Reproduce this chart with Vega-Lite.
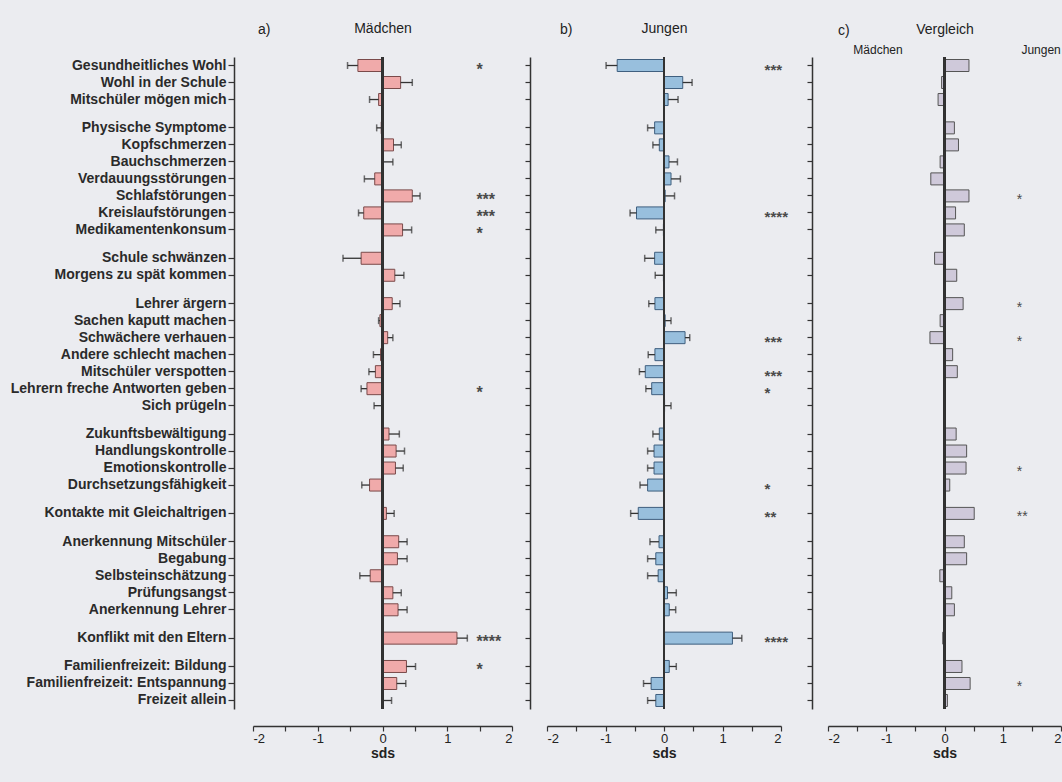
{
  "$schema": "https://vega.github.io/schema/vega-lite/v6.json",
  "background": "#ebecf0",
  "padding": {"left": 9, "top": 21, "right": 0, "bottom": 30},
  "data": {"values": [
    {"item": "Gesundheitliches Wohl", "m": -0.38, "me": -0.54, "sm": "*", "j": -0.80, "je": -0.99, "sj": "***", "v": 0.42, "sv": ""},
    {"item": "Wohl in der Schule", "m": 0.28, "me": 0.46, "sm": "", "j": 0.32, "je": 0.48, "sj": "", "v": -0.05, "sv": ""},
    {"item": "Mitschüler mögen mich", "m": -0.06, "me": -0.20, "sm": "", "j": 0.07, "je": 0.24, "sj": "", "v": -0.11, "sv": ""},
    {"item": "Physische Symptome", "m": -0.02, "me": -0.09, "sm": "", "j": -0.16, "je": -0.28, "sj": "", "v": 0.17, "sv": ""},
    {"item": "Kopfschmerzen", "m": 0.17, "me": 0.29, "sm": "", "j": -0.08, "je": -0.19, "sj": "", "v": 0.24, "sv": ""},
    {"item": "Bauchschmerzen", "m": 0.01, "me": 0.16, "sm": "", "j": 0.085, "je": 0.23, "sj": "", "v": -0.075, "sv": ""},
    {"item": "Verdauungsstörungen", "m": -0.12, "me": -0.28, "sm": "", "j": 0.12, "je": 0.28, "sj": "", "v": -0.235, "sv": ""},
    {"item": "Schlafstörungen", "m": 0.46, "me": 0.58, "sm": "***", "j": 0.02, "je": 0.18, "sj": "", "v": 0.42, "sv": "*"},
    {"item": "Kreislaufstörungen", "m": -0.29, "me": -0.37, "sm": "***", "j": -0.47, "je": -0.58, "sj": "****", "v": 0.19, "sv": ""},
    {"item": "Medikamentenkonsum", "m": 0.31, "me": 0.45, "sm": "*", "j": -0.01, "je": -0.14, "sj": "", "v": 0.34, "sv": ""},
    {"item": "Schule schwänzen", "m": -0.33, "me": -0.61, "sm": "", "j": -0.16, "je": -0.33, "sj": "", "v": -0.17, "sv": ""},
    {"item": "Morgens zu spät kommen", "m": 0.19, "me": 0.33, "sm": "", "j": -0.01, "je": -0.15, "sj": "", "v": 0.21, "sv": ""},
    {"item": "Lehrer ärgern", "m": 0.15, "me": 0.27, "sm": "", "j": -0.155, "je": -0.26, "sj": "", "v": 0.32, "sv": "*"},
    {"item": "Sachen kaputt machen", "m": -0.04, "me": -0.06, "sm": "", "j": 0.02, "je": 0.12, "sj": "", "v": -0.075, "sv": ""},
    {"item": "Schwächere verhauen", "m": 0.08, "me": 0.16, "sm": "", "j": 0.36, "je": 0.44, "sj": "***", "v": -0.25, "sv": "*"},
    {"item": "Andere schlecht machen", "m": -0.03, "me": -0.14, "sm": "", "j": -0.155, "je": -0.27, "sj": "", "v": 0.14, "sv": ""},
    {"item": "Mitschüler verspotten", "m": -0.11, "me": -0.21, "sm": "", "j": -0.32, "je": -0.42, "sj": "***", "v": 0.22, "sv": ""},
    {"item": "Lehrern freche Antworten geben", "m": -0.24, "me": -0.33, "sm": "*", "j": -0.21, "je": -0.31, "sj": "*", "v": 0.01, "sv": ""},
    {"item": "Sich prügeln", "m": -0.01, "me": -0.13, "sm": "", "j": 0.01, "je": 0.12, "sj": "", "v": 0.01, "sv": ""},
    {"item": "Zukunftsbewältigung", "m": 0.10, "me": 0.26, "sm": "", "j": -0.08, "je": -0.19, "sj": "", "v": 0.20, "sv": ""},
    {"item": "Handlungskontrolle", "m": 0.21, "me": 0.34, "sm": "", "j": -0.17, "je": -0.28, "sj": "", "v": 0.38, "sv": ""},
    {"item": "Emotionskontrolle", "m": 0.20, "me": 0.32, "sm": "", "j": -0.17, "je": -0.28, "sj": "", "v": 0.37, "sv": "*"},
    {"item": "Durchsetzungsfähigkeit", "m": -0.20, "me": -0.32, "sm": "", "j": -0.28, "je": -0.41, "sj": "*", "v": 0.09, "sv": ""},
    {"item": "Kontakte mit Gleichaltrigen", "m": 0.06, "me": 0.18, "sm": "", "j": -0.44, "je": -0.57, "sj": "**", "v": 0.51, "sv": "**"},
    {"item": "Anerkennung Mitschüler", "m": 0.25, "me": 0.38, "sm": "", "j": -0.085, "je": -0.24, "sj": "", "v": 0.34, "sv": ""},
    {"item": "Begabung", "m": 0.23, "me": 0.38, "sm": "", "j": -0.14, "je": -0.28, "sj": "", "v": 0.38, "sv": ""},
    {"item": "Selbsteinschätzung", "m": -0.19, "me": -0.35, "sm": "", "j": -0.10, "je": -0.28, "sj": "", "v": -0.08, "sv": ""},
    {"item": "Prüfungsangst", "m": 0.16, "me": 0.29, "sm": "", "j": 0.06, "je": 0.21, "sj": "", "v": 0.125, "sv": ""},
    {"item": "Anerkennung Lehrer", "m": 0.24, "me": 0.38, "sm": "", "j": 0.09, "je": 0.20, "sj": "", "v": 0.17, "sv": ""},
    {"item": "Konflikt mit den Eltern", "m": 1.15, "me": 1.31, "sm": "****", "j": 1.17, "je": 1.33, "sj": "****", "v": -0.03, "sv": ""},
    {"item": "Familienfreizeit: Bildung", "m": 0.37, "me": 0.51, "sm": "*", "j": 0.09, "je": 0.21, "sj": "", "v": 0.30, "sv": ""},
    {"item": "Familienfreizeit: Entspannung", "m": 0.22, "me": 0.36, "sm": "", "j": -0.22, "je": -0.35, "sj": "", "v": 0.44, "sv": "*"},
    {"item": "Freizeit allein", "m": 0.01, "me": 0.14, "sm": "", "j": -0.14, "je": -0.28, "sj": "", "v": 0.05, "sv": ""}
  ]},
  "spacing": 0,
  "bounds": "flush",
  "config": {
    "view": {"stroke": null},
    "font": "Liberation Sans",
    "axis": {"domainColor": "#333333", "tickColor": "#333333", "labelColor": "#222222", "titleColor": "#222222", "domainWidth": 1.5, "tickWidth": 1.2, "grid": false}
  },
  "hconcat": [
    {
      "width": 296, "height": 652,
      "title": {"text": "a)", "anchor": "start", "frame": "group", "dx": 24, "offset": -16, "fontSize": 14, "fontWeight": "normal", "color": "#222222", "font": "Liberation Sans Narrow, Liberation Sans"},
      "resolve": {"axis": {"x": "independent"}},
      "layer": [
        {
          "encoding": {"y": {"field": "item", "type": "nominal",
            "scale": {"type": "band", "paddingInner": 0, "paddingOuter": 1.18, "domain": ["Gesundheitliches Wohl","_1","_2","Wohl in der Schule","_3","_4","Mitschüler mögen mich","_5","_6","_7","_8","Physische Symptome","_9","_10","Kopfschmerzen","_11","_12","Bauchschmerzen","_13","_14","Verdauungsstörungen","_15","_16","Schlafstörungen","_17","_18","Kreislaufstörungen","_19","_20","Medikamentenkonsum","_21","_22","_23","_24","Schule schwänzen","_25","_26","Morgens zu spät kommen","_27","_28","_29","_30","Lehrer ärgern","_31","_32","Sachen kaputt machen","_33","_34","Schwächere verhauen","_35","_36","Andere schlecht machen","_37","_38","Mitschüler verspotten","_39","_40","Lehrern freche Antworten geben","_41","_42","Sich prügeln","_43","_44","_45","_46","Zukunftsbewältigung","_47","_48","Handlungskontrolle","_49","_50","Emotionskontrolle","_51","_52","Durchsetzungsfähigkeit","_53","_54","_55","_56","Kontakte mit Gleichaltrigen","_57","_58","_59","_60","Anerkennung Mitschüler","_61","_62","Begabung","_63","_64","Selbsteinschätzung","_65","_66","Prüfungsangst","_67","_68","Anerkennung Lehrer","_69","_70","_71","_72","Konflikt mit den Eltern","_73","_74","_75","_76","Familienfreizeit: Bildung","_77","_78","Familienfreizeit: Entspannung","_79","_80","Freizeit allein"]},
            "axis": {"title": null, "values": ["Gesundheitliches Wohl","Wohl in der Schule","Mitschüler mögen mich","Physische Symptome","Kopfschmerzen","Bauchschmerzen","Verdauungsstörungen","Schlafstörungen","Kreislaufstörungen","Medikamentenkonsum","Schule schwänzen","Morgens zu spät kommen","Lehrer ärgern","Sachen kaputt machen","Schwächere verhauen","Andere schlecht machen","Mitschüler verspotten","Lehrern freche Antworten geben","Sich prügeln","Zukunftsbewältigung","Handlungskontrolle","Emotionskontrolle","Durchsetzungsfähigkeit","Kontakte mit Gleichaltrigen","Anerkennung Mitschüler","Begabung","Selbsteinschätzung","Prüfungsangst","Anerkennung Lehrer","Konflikt mit den Eltern","Familienfreizeit: Bildung","Familienfreizeit: Entspannung","Freizeit allein"],
              "labelFontWeight": "bold", "labelFontSize": 14, "labelLimit": 400, "tickSize": 6, "labelPadding": 2, "labelColor": "#2a2a2a"}}},
          "layer": [
            {"mark": {"type": "bar", "size": 12, "fill": "#f0aaaa", "stroke": "#7a4a4a", "strokeWidth": 1},
             "encoding": {"x": {"field": "m", "type": "quantitative", "scale": {"domain": [-2, 2], "range": [19, 278], "nice": false, "zero": false}, "axis": null}}},
            {"mark": {"type": "rule", "color": "#333333", "strokeWidth": 1.3},
             "encoding": {"x": {"field": "m", "type": "quantitative", "scale": {"domain": [-2, 2], "range": [19, 278], "nice": false, "zero": false}, "axis": null}, "x2": {"field": "me"}}},
            {"mark": {"type": "tick", "color": "#333333", "thickness": 1.5, "size": 7},
             "encoding": {"x": {"field": "me", "type": "quantitative", "scale": {"domain": [-2, 2], "range": [19, 278], "nice": false, "zero": false}, "axis": null}}},
            {"mark": {"type": "text", "align": "left", "baseline": "middle", "dy": 4, "fontSize": 16, "fontWeight": "bold", "color": "#4a4a4a"},
             "encoding": {"x": {"datum": 1.45, "type": "quantitative", "scale": {"domain": [-2, 2], "range": [19, 278], "nice": false, "zero": false}, "axis": null}, "text": {"field": "sm"}}}
          ]
        },
        {"mark": {"type": "rule", "color": "#333333", "strokeWidth": 1.5},
         "encoding": {"x": {"datum": 0, "type": "quantitative", "scale": {"domain": [-2, 2], "range": [19, 278], "nice": false, "zero": false},
           "axis": {"orient": "bottom", "title": "sds", "titleFontWeight": "bold", "titleFontSize": 14, "values": [-2, -1.5, -1, -0.5, 0, 0.5, 1, 1.5, 2], "labelExpr": "datum.value % 1 === 0 ? toString(datum.value) : ''", "offset": 17, "tickSize": 5, "labelFontSize": 13, "labelPadding": 1, "titlePadding": 1}}}},
        {"mark": {"type": "rule", "color": "#333333", "strokeWidth": 1.5},
         "encoding": {"x": {"datum": 0, "type": "quantitative", "scale": {"domain": [-2, 2], "range": [19, 278], "nice": false, "zero": false},
           "axis": {"orient": "top", "title": "Mädchen", "labels": false, "ticks": false, "domain": false, "titleFontSize": 14, "titleFontWeight": "normal", "titlePadding": 22, "titleFont": "Liberation Sans Narrow, Liberation Sans"}}}}
      ]
    },
    {
      "width": 282, "height": 652,
      "title": {"text": "b)", "anchor": "start", "frame": "group", "dx": 30, "offset": -16, "fontSize": 14, "fontWeight": "normal", "color": "#222222", "font": "Liberation Sans Narrow, Liberation Sans"},
      "resolve": {"axis": {"x": "independent"}},
      "layer": [
        {
          "encoding": {"y": {"field": "item", "type": "nominal",
            "scale": {"type": "band", "paddingInner": 0, "paddingOuter": 1.18, "domain": ["Gesundheitliches Wohl","_1","_2","Wohl in der Schule","_3","_4","Mitschüler mögen mich","_5","_6","_7","_8","Physische Symptome","_9","_10","Kopfschmerzen","_11","_12","Bauchschmerzen","_13","_14","Verdauungsstörungen","_15","_16","Schlafstörungen","_17","_18","Kreislaufstörungen","_19","_20","Medikamentenkonsum","_21","_22","_23","_24","Schule schwänzen","_25","_26","Morgens zu spät kommen","_27","_28","_29","_30","Lehrer ärgern","_31","_32","Sachen kaputt machen","_33","_34","Schwächere verhauen","_35","_36","Andere schlecht machen","_37","_38","Mitschüler verspotten","_39","_40","Lehrern freche Antworten geben","_41","_42","Sich prügeln","_43","_44","_45","_46","Zukunftsbewältigung","_47","_48","Handlungskontrolle","_49","_50","Emotionskontrolle","_51","_52","Durchsetzungsfähigkeit","_53","_54","_55","_56","Kontakte mit Gleichaltrigen","_57","_58","_59","_60","Anerkennung Mitschüler","_61","_62","Begabung","_63","_64","Selbsteinschätzung","_65","_66","Prüfungsangst","_67","_68","Anerkennung Lehrer","_69","_70","_71","_72","Konflikt mit den Eltern","_73","_74","_75","_76","Familienfreizeit: Bildung","_77","_78","Familienfreizeit: Entspannung","_79","_80","Freizeit allein"]},
            "axis": {"title": null, "labels": false, "values": ["Gesundheitliches Wohl","Wohl in der Schule","Mitschüler mögen mich","Physische Symptome","Kopfschmerzen","Bauchschmerzen","Verdauungsstörungen","Schlafstörungen","Kreislaufstörungen","Medikamentenkonsum","Schule schwänzen","Morgens zu spät kommen","Lehrer ärgern","Sachen kaputt machen","Schwächere verhauen","Andere schlecht machen","Mitschüler verspotten","Lehrern freche Antworten geben","Sich prügeln","Zukunftsbewältigung","Handlungskontrolle","Emotionskontrolle","Durchsetzungsfähigkeit","Kontakte mit Gleichaltrigen","Anerkennung Mitschüler","Begabung","Selbsteinschätzung","Prüfungsangst","Anerkennung Lehrer","Konflikt mit den Eltern","Familienfreizeit: Bildung","Familienfreizeit: Entspannung","Freizeit allein"], "tickSize": 5}}},
          "layer": [
            {"mark": {"type": "bar", "size": 12, "fill": "#98bfdd", "stroke": "#3f5f7f", "strokeWidth": 1},
             "encoding": {"x": {"field": "j", "type": "quantitative", "scale": {"domain": [-2, 2], "range": [17, 251], "nice": false, "zero": false}, "axis": null}}},
            {"mark": {"type": "rule", "color": "#333333", "strokeWidth": 1.3},
             "encoding": {"x": {"field": "j", "type": "quantitative", "scale": {"domain": [-2, 2], "range": [17, 251], "nice": false, "zero": false}, "axis": null}, "x2": {"field": "je"}}},
            {"mark": {"type": "tick", "color": "#333333", "thickness": 1.5, "size": 7},
             "encoding": {"x": {"field": "je", "type": "quantitative", "scale": {"domain": [-2, 2], "range": [17, 251], "nice": false, "zero": false}, "axis": null}}},
            {"mark": {"type": "text", "align": "left", "baseline": "middle", "dy": 4, "fontSize": 15, "fontWeight": "bold", "color": "#4a4a4a"},
             "encoding": {"x": {"datum": 1.72, "type": "quantitative", "scale": {"domain": [-2, 2], "range": [17, 251], "nice": false, "zero": false}, "axis": null}, "text": {"field": "sj"}}}
          ]
        },
        {"mark": {"type": "rule", "color": "#333333", "strokeWidth": 1.5},
         "encoding": {"x": {"datum": 0, "type": "quantitative", "scale": {"domain": [-2, 2], "range": [17, 251], "nice": false, "zero": false},
           "axis": {"orient": "bottom", "title": "sds", "titleFontWeight": "bold", "titleFontSize": 14, "values": [-2, -1.5, -1, -0.5, 0, 0.5, 1, 1.5, 2], "labelExpr": "datum.value % 1 === 0 ? toString(datum.value) : ''", "offset": 17, "tickSize": 5, "labelFontSize": 13, "labelPadding": 1, "titlePadding": 1}}}},
        {"mark": {"type": "rule", "color": "#333333", "strokeWidth": 1.5},
         "encoding": {"x": {"datum": 0, "type": "quantitative", "scale": {"domain": [-2, 2], "range": [17, 251], "nice": false, "zero": false},
           "axis": {"orient": "top", "title": "Jungen", "labels": false, "ticks": false, "domain": false, "titleFontSize": 14, "titleFontWeight": "normal", "titlePadding": 22, "titleFont": "Liberation Sans Narrow, Liberation Sans"}}}}
      ]
    },
    {
      "width": 250, "height": 652,
      "title": {"text": "c)", "anchor": "start", "frame": "group", "dx": 26, "offset": -16, "fontSize": 14, "fontWeight": "normal", "color": "#222222", "font": "Liberation Sans Narrow, Liberation Sans"},
      "resolve": {"axis": {"x": "independent"}},
      "layer": [
        {
          "encoding": {"y": {"field": "item", "type": "nominal",
            "scale": {"type": "band", "paddingInner": 0, "paddingOuter": 1.18, "domain": ["Gesundheitliches Wohl","_1","_2","Wohl in der Schule","_3","_4","Mitschüler mögen mich","_5","_6","_7","_8","Physische Symptome","_9","_10","Kopfschmerzen","_11","_12","Bauchschmerzen","_13","_14","Verdauungsstörungen","_15","_16","Schlafstörungen","_17","_18","Kreislaufstörungen","_19","_20","Medikamentenkonsum","_21","_22","_23","_24","Schule schwänzen","_25","_26","Morgens zu spät kommen","_27","_28","_29","_30","Lehrer ärgern","_31","_32","Sachen kaputt machen","_33","_34","Schwächere verhauen","_35","_36","Andere schlecht machen","_37","_38","Mitschüler verspotten","_39","_40","Lehrern freche Antworten geben","_41","_42","Sich prügeln","_43","_44","_45","_46","Zukunftsbewältigung","_47","_48","Handlungskontrolle","_49","_50","Emotionskontrolle","_51","_52","Durchsetzungsfähigkeit","_53","_54","_55","_56","Kontakte mit Gleichaltrigen","_57","_58","_59","_60","Anerkennung Mitschüler","_61","_62","Begabung","_63","_64","Selbsteinschätzung","_65","_66","Prüfungsangst","_67","_68","Anerkennung Lehrer","_69","_70","_71","_72","Konflikt mit den Eltern","_73","_74","_75","_76","Familienfreizeit: Bildung","_77","_78","Familienfreizeit: Entspannung","_79","_80","Freizeit allein"]},
            "axis": {"title": null, "labels": false, "values": ["Gesundheitliches Wohl","Wohl in der Schule","Mitschüler mögen mich","Physische Symptome","Kopfschmerzen","Bauchschmerzen","Verdauungsstörungen","Schlafstörungen","Kreislaufstörungen","Medikamentenkonsum","Schule schwänzen","Morgens zu spät kommen","Lehrer ärgern","Sachen kaputt machen","Schwächere verhauen","Andere schlecht machen","Mitschüler verspotten","Lehrern freche Antworten geben","Sich prügeln","Zukunftsbewältigung","Handlungskontrolle","Emotionskontrolle","Durchsetzungsfähigkeit","Kontakte mit Gleichaltrigen","Anerkennung Mitschüler","Begabung","Selbsteinschätzung","Prüfungsangst","Anerkennung Lehrer","Konflikt mit den Eltern","Familienfreizeit: Bildung","Familienfreizeit: Entspannung","Freizeit allein"], "tickSize": 5}}},
          "layer": [
            {"mark": {"type": "bar", "size": 12, "fill": "#cfc9da", "stroke": "#555555", "strokeWidth": 1},
             "encoding": {"x": {"field": "v", "type": "quantitative", "scale": {"domain": [-2, 2], "range": [16, 249], "nice": false, "zero": false}, "axis": null}}},
            {"mark": {"type": "text", "align": "left", "baseline": "middle", "dy": 4, "fontSize": 14, "color": "#4a4a4a"},
             "encoding": {"x": {"datum": 1.24, "type": "quantitative", "scale": {"domain": [-2, 2], "range": [16, 249], "nice": false, "zero": false}, "axis": null}, "text": {"field": "sv"}}}
          ]
        },
        {"mark": {"type": "rule", "color": "#333333", "strokeWidth": 1.5},
         "encoding": {"x": {"datum": 0, "type": "quantitative", "scale": {"domain": [-2, 2], "range": [16, 249], "nice": false, "zero": false},
           "axis": {"orient": "bottom", "title": "sds", "titleFontWeight": "bold", "titleFontSize": 14, "values": [-2, -1.5, -1, -0.5, 0, 0.5, 1, 1.5, 2], "labelExpr": "datum.value % 1 === 0 ? toString(datum.value) : ''", "offset": 17, "tickSize": 5, "labelFontSize": 13, "labelPadding": 1, "titlePadding": 1, "labelFlush": true}}}},
        {"mark": {"type": "rule", "color": "#333333", "strokeWidth": 1.5},
         "encoding": {"x": {"datum": 0, "type": "quantitative", "scale": {"domain": [-2, 2], "range": [16, 249], "nice": false, "zero": false},
           "axis": {"orient": "top", "title": "Vergleich", "values": [-1.15, 1.65], "labelExpr": "datum.value < 0 ? 'Mädchen' : 'Jungen'", "ticks": false, "domain": false, "labelFontSize": 12, "labelPadding": 1, "titlePadding": 7, "titleFontSize": 14, "titleFontWeight": "normal", "titleFont": "Liberation Sans Narrow, Liberation Sans", "labelFont": "Liberation Sans Narrow, Liberation Sans"}}}}
      ]
    }
  ]
}
